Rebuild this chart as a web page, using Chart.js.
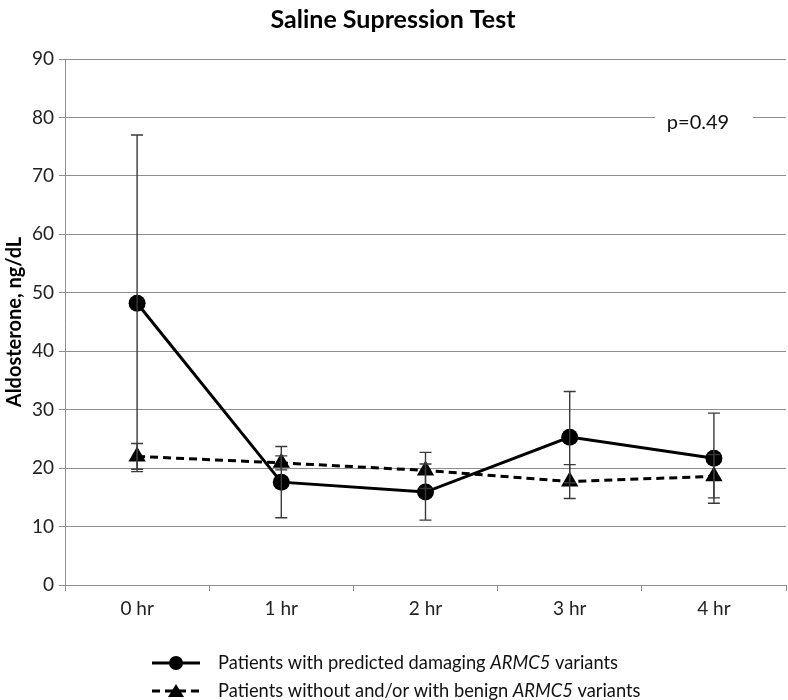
<!DOCTYPE html>
<html>
<head>
<meta charset="utf-8">
<script src="https://cdn.jsdelivr.net/npm/chart.js@4.4.1/dist/chart.umd.min.js"></script>
<style>
  html, body { margin: 0; padding: 0; background: #fff; }
  #wrap { width: 788px; height: 700px; }
</style>
</head>
<body>
<div id="wrap"><canvas id="chart" width="788" height="700"></canvas></div>
<script>
// data
const hours = ['0 hr', '1 hr', '2 hr', '3 hr', '4 hr'];
const damaging = [48.2, 17.6, 15.9, 25.3, 21.7];
const damagingErr = [28.8, 6.1, 4.8, 7.8, 7.7];
const benign = [22.0, 20.9, 19.6, 17.7, 18.6];
const benignErr = [2.2, 1.2, 3.1, 2.9, 3.7];
const yTicks = [0, 10, 20, 30, 40, 50, 60, 70, 80, 90];
const pValue = 'p=0.49';

const FONT = 'Lato, "Open Sans", sans-serif';

// error bars drawn with the chart's own scales
const errorBars = {
    id: 'errorBars',
    afterDatasetsDraw(chart) {
        const ctx = chart.ctx;
        const x = chart.scales.x, y = chart.scales.y;
        const sets = [[damaging, damagingErr], [benign, benignErr]];
        ctx.save();
        ctx.strokeStyle = '#3a3a3a';
        ctx.lineWidth = 1.4;
        sets.forEach(([vals, errs]) => {
            vals.forEach((v, i) => {
                const px = x.getPixelForValue(i);
                const top = y.getPixelForValue(v + errs[i]);
                const bot = y.getPixelForValue(v - errs[i]);
                ctx.beginPath();
                ctx.moveTo(px, top); ctx.lineTo(px, bot);
                ctx.moveTo(px - 6, top); ctx.lineTo(px + 6, top);
                ctx.moveTo(px - 6, bot); ctx.lineTo(px + 6, bot);
                ctx.stroke();
            });
        });
        ctx.restore();
    }
};

// p-value label sitting on the 80 gridline
const pLabel = {
    id: 'pLabel',
    afterDraw(chart) {
        const ctx = chart.ctx;
        const gy = chart.scales.y.getPixelForValue(80);
        ctx.save();
        ctx.fillStyle = '#fff';
        ctx.fillRect(655, gy - 4, 98, 10);
        ctx.font = '20px ' + FONT;
        ctx.fillStyle = '#111';
        ctx.textAlign = 'center';
        ctx.textBaseline = 'middle';
        ctx.fillText(pValue, 698, gy + 5);
        ctx.restore();
    }
};

// legend with italic gene name
const legendRows = [
    { parts: [['Patients with predicted damaging ', false], ['ARMC5', true], [' variants', false]], dash: [], marker: 'circle' },
    { parts: [['Patients without and/or with benign ', false], ['ARMC5', true], [' variants', false]], dash: [8, 5], marker: 'triangle' }
];
const customLegend = {
    id: 'customLegend',
    afterDraw(chart) {
        const ctx = chart.ctx;
        ctx.save();
        legendRows.forEach((row, r) => {
            const ly = 663 + r * 28;
            ctx.strokeStyle = '#000';
            ctx.lineWidth = 3;
            ctx.setLineDash(row.dash);
            ctx.beginPath();
            ctx.moveTo(152, ly); ctx.lineTo(200, ly);
            ctx.stroke();
            ctx.setLineDash([]);
            ctx.fillStyle = '#000';
            ctx.beginPath();
            if (row.marker === 'circle') {
                ctx.arc(176, ly, 7, 0, Math.PI * 2);
            } else {
                ctx.moveTo(176, ly - 7); ctx.lineTo(184, ly + 6); ctx.lineTo(168, ly + 6); ctx.closePath();
            }
            ctx.fill();
            let tx = 218;
            ctx.fillStyle = '#111';
            ctx.textBaseline = 'middle';
            row.parts.forEach(([txt, it]) => {
                ctx.font = (it ? 'italic ' : '') + '18.3px ' + FONT;
                ctx.fillText(txt, tx, ly);
                tx += ctx.measureText(txt).width;
            });
        });
        ctx.restore();
    }
};

new Chart(document.getElementById('chart'), {
    type: 'line',
    data: {
        labels: hours,
        datasets: [
            {
                label: 'Patients with predicted damaging ARMC5 variants',
                data: damaging,
                borderColor: '#000',
                backgroundColor: '#000',
                borderWidth: 3,
                pointStyle: 'circle',
                pointRadius: 8.5,
                pointBorderWidth: 0,
                tension: 0
            },
            {
                label: 'Patients without and/or with benign ARMC5 variants',
                data: benign,
                borderColor: '#000',
                backgroundColor: '#000',
                borderWidth: 3,
                borderDash: [8, 5],
                pointStyle: 'triangle',
                pointRadius: 10,
                pointBorderWidth: 0,
                tension: 0
            }
        ]
    },
    options: {
        responsive: false,
        animation: false,
        layout: { autoPadding: false, padding: { left: 0, right: 2, top: 0, bottom: 0 } },
        plugins: {
            legend: { display: false },
            tooltip: { enabled: false },
            title: {
                display: true,
                text: 'Saline Supression Test',
                color: '#000',
                font: { family: FONT, size: 25, weight: 'bold' },
                padding: { top: 5, bottom: 24 }
            }
        },
        scales: {
            y: {
                min: 0, max: 90,
                afterBuildTicks(scale) { scale.ticks = yTicks.map(v => ({ value: v })); },
                afterFit(scale) { scale.width = 65; },
                ticks: { color: '#222', font: { family: FONT, size: 19 }, padding: 5 },
                grid: { color: '#8e8e8e', lineWidth: 1, tickLength: 6 },
                border: { color: '#8e8e8e' },
                title: {
                    display: true,
                    text: 'Aldosterone, ng/dL',
                    color: '#000',
                    font: { family: FONT, size: 20, weight: 'bold' },
                    padding: { top: 3, bottom: 0 }
                }
            },
            x: {
                offset: true,
                afterFit(scale) {
                    scale.height = 115;
                    scale.paddingLeft = 0;
                    scale.paddingRight = 0;
                },
                ticks: { color: '#222', font: { family: FONT, size: 19 }, padding: 6 },
                grid: { display: true, drawOnChartArea: false, offset: true, color: '#8e8e8e', tickLength: 6 },
                border: { color: '#8e8e8e' }
            }
        }
    },
    plugins: [errorBars, pLabel, customLegend]
});
</script>
</body>
</html>
